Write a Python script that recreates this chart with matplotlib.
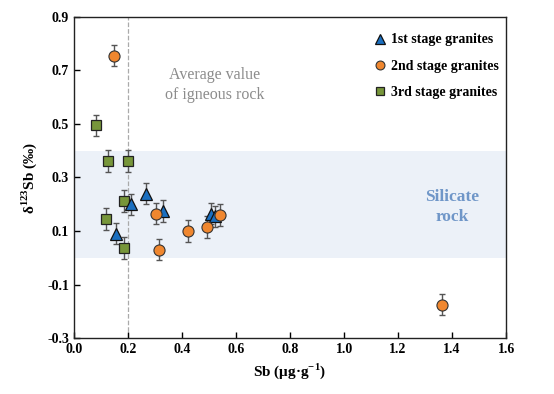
import matplotlib
matplotlib.use("Agg")
import matplotlib.pyplot as plt
from matplotlib.patches import Rectangle

# Sb concentration (ug/g) and d123Sb (permil), error +-0.04
stage1_sb = [0.157, 0.212, 0.265, 0.331, 0.507, 0.522]
stage1_d = [0.090, 0.200, 0.240, 0.175, 0.165, 0.155]
stage2_sb = [0.149, 0.305, 0.314, 0.421, 0.491, 0.540, 1.363]
stage2_d = [0.755, 0.165, 0.030, 0.100, 0.115, 0.160, -0.175]
stage3_sb = [0.080, 0.127, 0.201, 0.117, 0.185, 0.185]
stage3_d = [0.495, 0.362, 0.362, 0.145, 0.212, 0.036]
err = 0.04

plt.rcParams['font.family'] = ['Liberation Serif', 'DejaVu Serif']
plt.rcParams['mathtext.fontset'] = 'custom'
plt.rcParams['mathtext.rm'] = 'Liberation Serif'
plt.rcParams['mathtext.bf'] = 'Liberation Serif:bold'

fig = plt.figure(figsize=(5.54, 3.94), dpi=100)
ax = fig.add_axes([0.1336, 0.142, 0.78, 0.815])

# silicate rock band and igneous average line
ax.add_patch(Rectangle((0, 0.0), 1.6, 0.4, facecolor='#ecf1f8', edgecolor='none', zorder=0))
ax.axvline(0.2, color='#aaaaaa', linestyle='--', linewidth=0.9, zorder=1)

ebar = dict(fmt='none', ecolor='#555555', elinewidth=1.0, capsize=2.2, capthick=1.0, zorder=2)
ax.errorbar(stage1_sb, stage1_d, yerr=err, **ebar)
ax.errorbar(stage2_sb, stage2_d, yerr=err, **ebar)
ax.errorbar(stage3_sb, stage3_d, yerr=err, **ebar)

ax.plot(stage3_sb, stage3_d, 's', color='#77963a', mec='#222222', mew=0.9, ms=7.5,
        label='3rd stage granites', zorder=3)
ax.plot(stage2_sb, stage2_d, 'o', color='#f0872f', mec='#333333', mew=0.8, ms=8,
        label='2nd stage granites', zorder=4)
ax.plot(stage1_sb, stage1_d, '^', color='#1a6fc0', mec='#111111', mew=0.9, ms=8.5,
        label='1st stage granites', zorder=3)

ax.text(0.52, 0.645, 'Average value\nof igneous rock', ha='center', va='center',
        fontsize=11.5, color='#8c8c8c', linespacing=1.3)
ax.text(1.4, 0.19, 'Silicate\nrock', ha='center', va='center', fontsize=12.5,
        fontweight='bold', color='#6f96c8', linespacing=1.4)

ax.set_xlim(0, 1.6)
ax.set_ylim(-0.3, 0.9)
ax.set_xticks([0.0, 0.2, 0.4, 0.6, 0.8, 1.0, 1.2, 1.4, 1.6])
ax.set_yticks([-0.3, -0.1, 0.1, 0.3, 0.5, 0.7, 0.9])
ax.xaxis.set_major_formatter(matplotlib.ticker.FormatStrFormatter('%.1f'))
ax.yaxis.set_major_formatter(matplotlib.ticker.FormatStrFormatter('%.1f'))
ax.tick_params(direction='in', length=4, width=1, labelsize=10)
for lab in ax.get_xticklabels() + ax.get_yticklabels():
    lab.set_fontweight('bold')
for s in ax.spines.values():
    s.set_linewidth(1.0)
    s.set_color('#222222')

ax.set_xlabel('Sb (μg·g$^{\\mathbf{-1}}$)', fontsize=11, fontweight='bold')
ax.set_ylabel('δ$^{\\mathbf{123}}$Sb (‰)', fontsize=11, fontweight='bold', labelpad=6)

handles, labels = ax.get_legend_handles_labels()
ax.legend(handles[::-1], labels[::-1], loc='upper right', frameon=False,
          bbox_to_anchor=(1.015, 0.992),
          prop={'weight': 'bold', 'size': 10}, handletextpad=0.3, labelspacing=0.95,
          handlelength=1.0, markerscale=0.8, borderaxespad=0.6)

fig.savefig('out.png', dpi=100)
